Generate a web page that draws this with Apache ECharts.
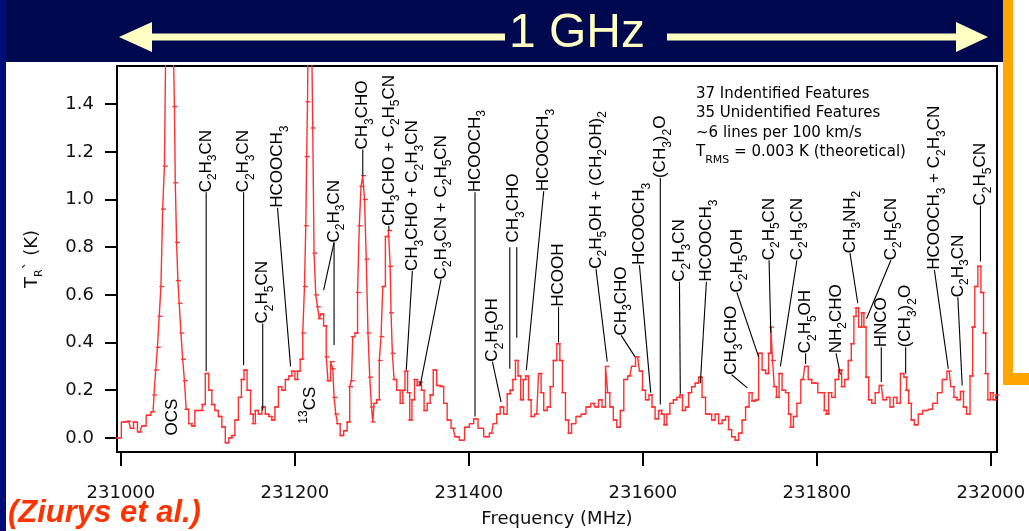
<!DOCTYPE html>
<html>
<head>
<meta charset="utf-8">
<script src="https://cdn.jsdelivr.net/npm/echarts@6/dist/echarts.min.js"></script>
<style>
  html, body { margin:0; padding:0; background:#fff; }
  #chart { width:1029px; height:531px; }
</style>
</head>
<body>
<div id="chart"></div>
<script>
// === Spectrum ===
const freqMHz = [
  230996,231005,231009,231013,231016,231022,231026,231032,231037,231039,231041,231043,231045,231047,231049,231051,
  231053,231055,231057,231059,231061,231062,231063,231065,231066,231068,231070,231072,231074,231076,231080,231083,
  231087,231093,231095,231099,231103,231106,231110,231114,231118,231122,231126,231129,231133,231137,231140,231143,
  231147,231151,231153,231156,231160,231164,231168,231172,231175,231179,231183,231187,231191,231195,231198,231202,
  231204,231208,231210,231212,231213,231214,231215,231216,231218,231219,231220,231221,231223,231225,231227,231229,
  231231,231235,231237,231239,231243,231244,231246,231248,231250,231254,231258,231262,231264,231266,231267,231271,
  231273,231275,231277,231279,231281,231283,231285,231287,231289,231290,231292,231296,231298,231300,231302,231306,
  231309,231310,231311,231313,231315,231319,231323,231325,231328,231331,231333,231336,231339,231342,231344,231347,
  231350,231354,231357,231361,231365,231369,231373,231377,231382,231386,231392,231398,231403,231408,231413,231421,
  231426,231430,231434,231438,231442,231446,231449,231452,231455,231458,231461,231464,231467,231470,231473,231478,
  231482,231484,231488,231492,231495,231499,231503,231506,231509,231513,231516,231520,231526,231532,231537,231543,
  231547,231551,231555,231559,231560,231564,231568,231572,231576,231580,231585,231589,231594,231598,231601,231605,
  231609,231612,231616,231620,231623,231626,231629,231633,231637,231641,231644,231647,231651,231654,231658,231662,
  231666,231670,231674,231677,231681,231685,231689,231693,231697,231700,231704,231708,231712,231716,231720,231724,
  231727,231731,231735,231739,231743,231746,231748,231750,231752,231755,231758,231762,231766,231769,231771,231775,
  231779,231784,231788,231792,231796,231799,231803,231807,231810,231812,231815,231819,231823,231827,231830,231834,
  231838,231841,231844,231846,231850,231853,231855,231858,231861,231865,231869,231874,231878,231882,231886,231890,
  231894,231898,231902,231904,231907,231910,231914,231919,231924,231930,231936,231941,231947,231952,231956,231959,
  231963,231967,231970,231974,231978,231980,231983,231987,231990,231993,231995,231998,232001,232004,232007
];
const tempK = [
  0.00,0.067,0.07,0.04,0.067,0.025,0.05,0.095,0.11,0.18,0.285,0.38,0.51,0.635,0.96,1.14,
  1.8,2.4,2.6,2.2,1.7,1.39,1.07,0.82,0.66,0.565,0.44,0.33,0.24,0.12,0.06,0.05,
  0.115,0.115,0.14,0.27,0.2,0.14,0.115,0.09,0.046,-0.02,0.0,0.01,0.075,0.17,0.245,0.285,
  0.2,0.1,0.06,0.115,0.1,0.13,0.1,0.09,0.075,0.13,0.215,0.2,0.245,0.26,0.28,0.245,
  0.28,0.33,0.44,0.635,0.89,1.18,1.41,1.8,2.5,2.2,1.6,1.3,0.775,0.6,0.55,0.5,
  0.52,0.47,0.34,0.24,0.32,0.29,0.17,0.1,0.06,0.01,0.03,0.067,0.215,0.24,0.425,0.44,
  0.61,0.89,1.055,1.10,1.0,0.75,0.44,0.255,0.13,0.067,0.145,0.16,0.325,0.425,0.635,0.845,
  0.87,0.72,0.525,0.355,0.245,0.2,0.145,0.2,0.28,0.19,0.075,0.16,0.245,0.22,0.235,0.2,
  0.115,0.145,0.18,0.285,0.22,0.215,0.145,0.075,0.04,0.005,-0.01,0.045,0.06,0.08,0.04,0.005,
  0.02,0.06,0.1,0.13,0.1,0.185,0.2,0.245,0.325,0.26,0.16,0.245,0.26,0.16,0.09,0.1,
  0.27,0.19,0.115,0.13,0.215,0.325,0.395,0.325,0.19,0.075,0.02,0.06,0.09,0.1,0.13,0.145,
  0.13,0.16,0.13,0.3,0.19,0.13,0.075,0.045,0.115,0.245,0.26,0.3,0.34,0.28,0.2,0.16,
  0.18,0.13,0.08,0.115,0.1,0.055,0.1,0.145,0.16,0.17,0.18,0.115,0.13,0.19,0.215,0.23,
  0.255,0.17,0.1,0.1,0.075,0.1,0.06,0.075,0.09,0.035,0.005,-0.01,0.02,0.075,0.13,0.19,
  0.155,0.16,0.355,0.285,0.27,0.355,0.465,0.325,0.215,0.17,0.27,0.2,0.19,0.1,0.045,0.09,
  0.145,0.245,0.3,0.245,0.23,0.23,0.19,0.19,0.115,0.1,0.19,0.17,0.245,0.285,0.215,0.245,
  0.325,0.395,0.51,0.545,0.465,0.525,0.465,0.255,0.16,0.145,0.19,0.22,0.16,0.17,0.13,0.17,
  0.145,0.27,0.255,0.2,0.145,0.075,0.055,0.1,0.115,0.12,0.145,0.19,0.245,0.28,0.215,0.17,
  0.16,0.195,0.13,0.1,0.26,0.465,0.635,0.72,0.61,0.44,0.27,0.16,0.19,0.16,0.18
];

// === Line identifications: text, label foot (freq, K), leader foot on the spectrum (freq, K) ===
const annoText = [
  'OCS','C{s|2}H{s|3}CN','C{s|2}H{s|3}CN','C{s|2}H{s|5}CN','HCOOCH{s|3}','{u|13}CS',
  'C{s|2}H{s|3}CN','','CH{s|3}CHO','CH{s|3}CHO + C{s|2}H{s|5}CN','CH{s|3}CHO + C{s|2}H{s|3}CN',
  'C{s|2}H{s|3}CN + C{s|2}H{s|5}CN','HCOOCH{s|3}','C{s|2}H{s|5}OH','CH{s|3}CHO','','',
  'HCOOCH{s|3}','HCOOH','C{s|2}H{s|5}OH + (CH{s|2}OH){s|2}','CH{s|3}CHO','HCOOCH{s|3}',
  '(CH{s|3}){s|2}O','C{s|2}H{s|3}CN','HCOOCH{s|3}','CH{s|3}CHO','C{s|2}H{s|5}OH','C{s|2}H{s|5}CN',
  'C{s|2}H{s|3}CN','C{s|2}H{s|5}OH','NH{s|2}CHO','CH{s|3}NH{s|2}','C{s|2}H{s|5}CN','HNCO',
  '(CH{s|3}){s|2}O','HCOOCH{s|3} + C{s|2}H{s|3}CN','C{s|2}H{s|3}CN','C{s|2}H{s|5}CN'
];
const annoTextF = [
  231059,231098,231141,231163,231180,231218,
  231245,231245,231278,231308,231335,
  231368,231407,231427,231451,231447,231455,
  231486,231503,231546,231575,231596,
  231620,231642,231673,231702,231708,231745,
  231777,231787,231822,231838,231885,231874,
  231902,231935,231962,231988
];
const annoTextV = [
  0.01,1.03,1.03,0.48,0.965,0.06,
  0.82,0.82,1.21,0.89,0.70,
  0.665,1.03,0.32,0.82,0.80,0.80,
  1.035,0.55,0.71,0.43,0.725,
  1.09,0.655,0.655,0.265,0.61,0.745,
  0.745,0.355,0.355,0.775,0.745,0.38,
  0.38,0.705,0.59,0.975
];
const annoPeakF = [
  231059,231098,231141,231163,231195,231218,
  231245,231233,231278,231308,231328,
  231344,231407,231437,231451,231447,231455,
  231466,231503,231559,231591,231609,
  231620,231643,231666,231720,231733,231747,
  231758,231787,231827,231847,231857,231874,
  231902,231951,231967,231988
];
const annoPeakV = [
  0.01,0.28,0.305,0.115,0.30,0.06,
  0.39,0.62,1.10,0.87,0.285,
  0.22,0.09,0.15,0.82,0.29,0.42,
  0.285,0.40,0.32,0.34,0.19,
  0.14,0.185,0.23,0.21,0.34,0.44,
  0.30,0.31,0.265,0.565,0.50,0.235,
  0.27,0.29,0.22,0.74
];

// === Axes ===
const xTicks = [231000, 231200, 231400, 231600, 231800, 232000];
const yTicks = [0, 0.2, 0.4, 0.6, 0.8, 1.0, 1.2, 1.4];

const FONT = "'Liberation Sans', Arial, sans-serif";
const WIDE = "'DejaVu Sans', Verdana, sans-serif";
const red = '#ff3030', navy = '#00094f', cream = '#ffffc4';
const richLabel = {
  s: { fontSize: 12, fontFamily: FONT, verticalAlign: 'bottom', lineHeight: 12, padding: [0, 0, -4, 0] },
  u: { fontSize: 12, fontFamily: FONT, verticalAlign: 'top', lineHeight: 12, padding: [-4, 0, 0, 0] }
};
const richWide = {
  s: { fontSize: 11, fontFamily: WIDE, verticalAlign: 'bottom', lineHeight: 12, padding: [0, 0, -4, 0] }
};

const chart = echarts.init(document.getElementById('chart'));

chart.setOption({
  backgroundColor: '#fff',
  animation: false,
  grid: { left: 117, top: 66, width: 880, height: 386, outerBoundsMode: 'none',
    show: true, borderColor: '#000', borderWidth: 2 },
  xAxis: {
    type: 'value', min: 230995.5, max: 232007,
    name: 'Frequency (MHz)', nameLocation: 'middle', nameGap: 58,
    nameTextStyle: { fontFamily: WIDE, fontSize: 18, color: '#111' },
    axisLine: { onZero: false, lineStyle: { color: '#000', width: 2 } },
    axisTick: { customValues: xTicks, inside: false, length: 14, lineStyle: { color: '#000', width: 2 } },
    axisLabel: { customValues: xTicks, margin: 32, fontFamily: WIDE, fontSize: 18, color: '#111',
      formatter: v => String(v) },
    splitLine: { show: false }
  },
  yAxis: {
    type: 'value', min: -0.059, max: 1.56,
    name: '{t|T}{s|R}{u|`} (K)', nameLocation: 'middle', nameGap: 76, nameRotate: 90,
    nameTextStyle: { fontFamily: WIDE, fontSize: 18, color: '#111',
      rich: { t: { fontFamily: WIDE, fontSize: 18 }, s: richWide.s,
        u: { fontSize: 16, fontFamily: WIDE, verticalAlign: 'top', lineHeight: 12 } } },
    axisLine: { onZero: false, lineStyle: { color: '#000', width: 2 } },
    axisTick: { customValues: yTicks, inside: false, length: 12, lineStyle: { color: '#000', width: 2 } },
    axisLabel: { customValues: yTicks, margin: 23, fontFamily: WIDE, fontSize: 18, color: '#111',
      formatter: v => v.toFixed(1) },
    splitLine: { show: false }
  },
  series: [
    {
      type: 'line', step: 'middle', data: freqMHz.map((f, i) => [f, tempK[i]]),
      lineStyle: { color: red, width: 1.4 }, clip: true,
      symbol: 'rect', symbolSize: [5, 1.3], itemStyle: { color: red }, z: 2
    },
    {
      type: 'custom', clip: false, z: 3,
      data: annoText.map((t, i) => [annoPeakF[i], annoPeakV[i], annoTextF[i], annoTextV[i], i]),
      encode: { x: [0, 2], y: [1, 3] },
      renderItem: (params, api) => {
        const i = api.value(4);
        const p = api.coord([api.value(0), api.value(1)]);
        const t = api.coord([api.value(2), api.value(3)]);
        const kids = [];
        if (Math.abs(p[0] - t[0]) + Math.abs(p[1] - t[1]) > 0.5) {
          kids.push({ type: 'line', shape: { x1: p[0], y1: p[1], x2: t[0], y2: t[1] },
            style: { stroke: '#000', lineWidth: 1.1 } });
        }
        if (annoText[i]) {
          kids.push({ type: 'text', x: t[0], y: t[1], rotation: Math.PI / 2,
            style: { text: annoText[i], fontFamily: FONT, fontSize: 17, fill: '#000',
              align: 'left', verticalAlign: 'middle', lineHeight: 18, rich: richLabel } });
        }
        return { type: 'group', children: kids };
      }
    }
  ],
  graphic: [
    // slide frame
    { type: 'rect', shape: { x: 0, y: 0, width: 1029, height: 62 }, style: { fill: navy }, z: 0 },
    { type: 'rect', shape: { x: 0, y: 0, width: 6, height: 531 }, style: { fill: '#000e7a' }, z: 0 },
    { type: 'rect', shape: { x: 1003, y: 0, width: 26, height: 385 }, style: { fill: '#ffa500' }, z: 0 },
    { type: 'rect', shape: { x: 1013, y: 0, width: 16, height: 373 }, style: { fill: '#fff' }, z: 0 },
    // 1 GHz arrow
    { type: 'polygon', shape: { points: [[119, 37], [152, 22], [152, 52]] }, style: { fill: cream } },
    { type: 'rect', shape: { x: 150, y: 33.5, width: 355, height: 7 }, style: { fill: cream } },
    { type: 'rect', shape: { x: 667, y: 33.5, width: 292, height: 7 }, style: { fill: cream } },
    { type: 'polygon', shape: { points: [[988, 37], [956, 22], [956, 52]] }, style: { fill: cream } },
    { type: 'text', x: 577, y: 34, style: { text: '1 GHz', fontFamily: FONT, fontSize: 48, fill: cream,
      align: 'center', verticalAlign: 'middle' } },
    // notes box
    { type: 'text', x: 696, y: 84, style: {
      text: '37 Indentified Features\n35 Unidentified Features\n~6 lines per 100 km/s\nT{s|RMS} = 0.003 K (theoretical)',
      fontFamily: WIDE, fontSize: 15, fill: '#000', lineHeight: 19.5, rich: richWide } },
    // credit
    { type: 'text', x: 8, y: 513, style: { text: '(Ziurys et al.)', fontFamily: FONT, fontSize: 31,
      fontWeight: 'bold', fontStyle: 'italic', fill: '#ff3300', verticalAlign: 'middle' } }
  ]
});
</script>
</body>
</html>
